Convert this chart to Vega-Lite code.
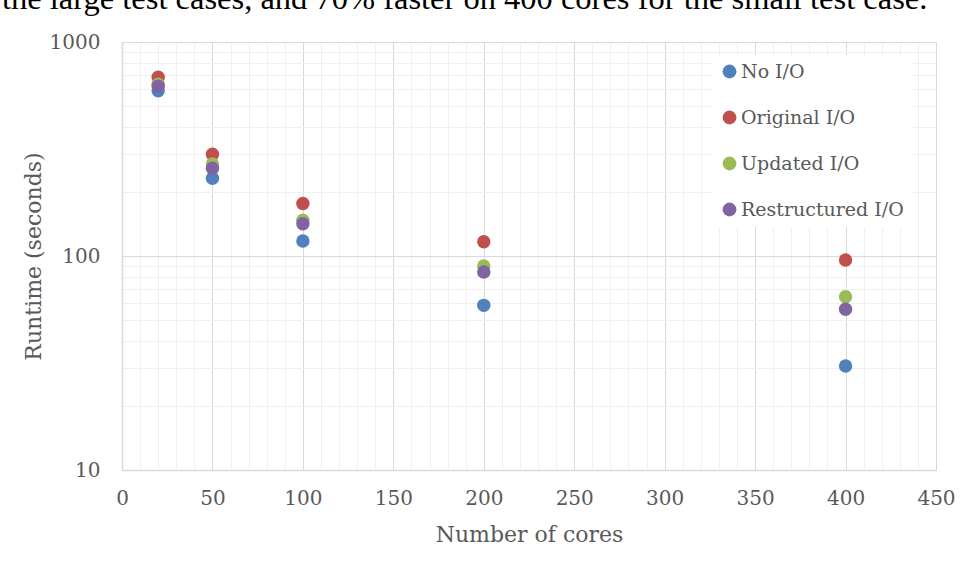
{
  "$schema": "https://vega.github.io/schema/vega-lite/v6.json",
  "autosize": {"type": "none"},
  "width": 814,
  "height": 428,
  "padding": {"left": 122, "top": 42, "right": 26, "bottom": 108},
  "background": "white",
  "title": {
    "text": "the large test cases, and 70% faster on 400 cores for the small test case.",
    "anchor": "start",
    "frame": "group",
    "orient": "top",
    "font": "Liberation Serif",
    "fontSize": 32.5,
    "fontWeight": "normal",
    "color": "black",
    "baseline": "alphabetic",
    "offset": 28,
    "limit": 3000,
    "dx": -120,
    "dy": 37
  },
  "config": {
    "view": {"stroke": null},
    "font": "DejaVu Serif"
  },
  "data": {
    "values": [
      {"cores": 20, "series": "No I/O", "runtime": 592},
      {"cores": 50, "series": "No I/O", "runtime": 231},
      {"cores": 100, "series": "No I/O", "runtime": 117.5},
      {"cores": 200, "series": "No I/O", "runtime": 58.8},
      {"cores": 400, "series": "No I/O", "runtime": 30.6},
      {"cores": 20, "series": "Original I/O", "runtime": 684},
      {"cores": 50, "series": "Original I/O", "runtime": 299},
      {"cores": 100, "series": "Original I/O", "runtime": 176},
      {"cores": 200, "series": "Original I/O", "runtime": 116.6},
      {"cores": 400, "series": "Original I/O", "runtime": 95.8},
      {"cores": 20, "series": "Updated I/O", "runtime": 635},
      {"cores": 50, "series": "Updated I/O", "runtime": 269},
      {"cores": 100, "series": "Updated I/O", "runtime": 147},
      {"cores": 200, "series": "Updated I/O", "runtime": 89.8},
      {"cores": 400, "series": "Updated I/O", "runtime": 64.5},
      {"cores": 20, "series": "Restructured I/O", "runtime": 622},
      {"cores": 50, "series": "Restructured I/O", "runtime": 257},
      {"cores": 100, "series": "Restructured I/O", "runtime": 141.6},
      {"cores": 200, "series": "Restructured I/O", "runtime": 84.2},
      {"cores": 400, "series": "Restructured I/O", "runtime": 56.4}
    ]
  },
  "mark": {"type": "point", "filled": true, "opacity": 1, "size": 180, "strokeWidth": 0},
  "encoding": {
    "x": {
      "field": "cores",
      "type": "quantitative",
      "scale": {"domain": [0, 450], "nice": false, "zero": false},
      "axis": {
        "values": [0,10,20,30,40,50,60,70,80,90,100,110,120,130,140,150,160,170,180,190,200,210,220,230,240,250,260,270,280,290,300,310,320,330,340,350,360,370,380,390,400,410,420,430,440,450],
        "labelExpr": "datum.value % 50 === 0 ? format(datum.value, 'd') : ''",
        "labelOverlap": false,
        "labelFlush": false,
        "grid": true,
        "gridColor": {"condition": {"test": "datum.value % 50 === 0", "value": "#d9d9d9"}, "value": "#f0f0f0"},
        "gridWidth": 1,
        "ticks": false,
        "tickSize": 0,
        "domainColor": "#d9d9d9",
        "domainWidth": 1.5,
        "labelFont": "DejaVu Serif",
        "labelFontSize": 20,
        "labelColor": "#595959",
        "labelPadding": 18,
        "title": "Number of cores",
        "titleFont": "DejaVu Serif",
        "titleFontSize": 22,
        "titleFontWeight": "normal",
        "titleColor": "#595959",
        "titlePadding": 16
      }
    },
    "y": {
      "field": "runtime",
      "type": "quantitative",
      "scale": {"type": "log", "domain": [10, 1000], "nice": false},
      "axis": {
        "values": [10,20,30,40,50,60,70,80,90,100,200,300,400,500,600,700,800,900,1000],
        "labelExpr": "indexof([10,100,1000], datum.value) >= 0 ? format(datum.value, 'd') : ''",
        "labelOverlap": false,
        "labelFlush": false,
        "grid": true,
        "gridColor": {"condition": {"test": "indexof([10,100,1000], datum.value) >= 0", "value": "#d9d9d9"}, "value": "#f0f0f0"},
        "gridWidth": 1,
        "ticks": false,
        "tickSize": 0,
        "domainColor": "#d9d9d9",
        "domainWidth": 1.5,
        "labelFont": "DejaVu Serif",
        "labelFontSize": 20,
        "labelColor": "#595959",
        "labelPadding": 22,
        "title": "Runtime (seconds)",
        "titleFont": "DejaVu Serif",
        "titleFontSize": 22,
        "titleFontWeight": "normal",
        "titleColor": "#595959",
        "titlePadding": 4
      }
    },
    "color": {
      "field": "series",
      "type": "nominal",
      "scale": {
        "domain": ["No I/O", "Original I/O", "Updated I/O", "Restructured I/O"],
        "range": ["#4f81bd", "#c0504d", "#9bbb59", "#8064a2"]
      },
      "legend": {
        "title": null,
        "orient": "none",
        "legendX": 591,
        "legendY": 13,
        "fillColor": "white",
        "padding": 7,
        "symbolType": "circle",
        "symbolSize": 190,
        "symbolStrokeWidth": 0,
        "symbolOpacity": 1,
        "labelFont": "DejaVu Serif",
        "labelFontSize": 19,
        "labelColor": "#595959",
        "labelOffset": 2,
        "rowPadding": 26,
        "labelLimit": 300
      }
    }
  }
}
